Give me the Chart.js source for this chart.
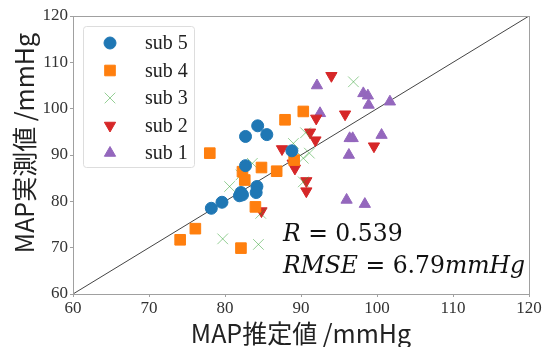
<!DOCTYPE html>
<html>
<head>
<meta charset="utf-8">
<script src="https://cdn.jsdelivr.net/npm/chart.js@4"></script>
<style>
  html, body { margin: 0; padding: 0; background: #fff; }
  #wrap { width: 545px; height: 347px; }
</style>
</head>
<body>
<div id="wrap"><canvas id="map"></canvas></div>
<script>
const sub5X = [78.2, 79.6, 81.9, 82.1, 82.3, 82.7, 82.7, 84.3, 85.5, 84.2, 84.1, 88.8];
const sub5Y = [78.5, 79.8, 81.2, 81.9, 81.4, 94.0, 87.7, 96.3, 94.4, 83.2, 81.9, 90.9];
const sub4X = [74.1, 76.1, 78.0, 82.1, 82.3, 82.6, 84.0, 84.8, 86.8, 87.9, 89.1, 90.3];
const sub4Y = [71.7, 74.1, 90.4, 69.9, 86.4, 84.6, 78.8, 87.3, 86.5, 97.6, 88.9, 99.4];
const sub3X = [79.7, 84.4, 80.6, 82.1, 83.6, 84.7, 89.0, 90.6, 90.3, 91.1, 90.3, 96.9];
const sub3Y = [71.9, 70.7, 83.2, 85.7, 88.2, 77.4, 92.5, 94.8, 89.3, 90.4, 84.2, 105.8];
const sub2X = [84.8, 87.5, 88.9, 89.2, 90.7, 90.7, 91.2, 91.9, 92.0, 94.0, 95.8, 99.6];
const sub2Y = [77.9, 91.3, 88.2, 87.1, 84.4, 82.2, 94.9, 93.2, 97.9, 107.1, 98.8, 91.9];
const sub1X = [92.1, 92.5, 96.0, 96.3, 96.4, 96.8, 98.2, 98.8, 98.9, 98.4, 100.6, 101.7];
const sub1Y = [105.0, 99.0, 80.3, 90.0, 93.6, 93.6, 103.3, 102.8, 100.8, 79.4, 94.3, 101.5];
const diagX = [60, 120];
const diagY = [60, 120];
const xTitle = 'MAP推定値 /mmHg';
const yTitle = 'MAP実測値 /mmHg';

function pts(xs, ys) {
    return xs.map((x, i) => ({ x: x, y: ys[i] }));
}

const series = [
    { label: 'sub 5', data: pts(sub5X, sub5Y), color: '#1f77b4', style: 'circle', radius: 6, rotation: 0 },
    { label: 'sub 4', data: pts(sub4X, sub4Y), color: '#ff7f0e', style: 'rect', radius: 7.5, rotation: 0 },
    { label: 'sub 3', data: pts(sub3X, sub3Y), color: 'rgba(44,160,44,0.5)', style: 'crossRot', radius: 7.5, rotation: 0 },
    { label: 'sub 2', data: pts(sub2X, sub2Y), color: '#d62728', style: 'triangle', radius: 6.5, rotation: 180 },
    { label: 'sub 1', data: pts(sub1X, sub1Y), color: '#9467bd', style: 'triangle', radius: 6.5, rotation: 0 }
];

const serif = '"Liberation Serif", "Times New Roman", serif';
const cjk = '"Noto Sans CJK JP", "Noto Sans", sans-serif';
const mathFont = '"DejaVu Serif", serif';

// frame, legend, R / RMSE note and axis titles
const extras = {
    id: 'extras',
    afterDraw(chart) {
        const ctx = chart.ctx;
        const a = chart.chartArea;
        ctx.save();
        ctx.strokeStyle = '#a0a0a0';
        ctx.lineWidth = 1;
        ctx.strokeRect(a.left + 0.5, a.top + 0.5, a.right - a.left, a.bottom - a.top);

        // legend box
        ctx.fillStyle = 'rgba(255,255,255,0.85)';
        ctx.strokeStyle = '#dddddd';
        ctx.beginPath();
        ctx.roundRect(83.5, 26.5, 111, 141, 3);
        ctx.fill();
        ctx.stroke();
        series.forEach((s, i) => {
            const y = 43 + i * 27.5;
            ctx.fillStyle = s.color;
            ctx.strokeStyle = s.color;
            ctx.lineWidth = 1;
            Chart.helpers.drawPoint(ctx, { pointStyle: s.style, radius: s.radius, rotation: s.rotation, borderWidth: 1 }, 110, y);
            ctx.fillStyle = '#222';
            ctx.font = '20px ' + serif;
            ctx.textBaseline = 'middle';
            ctx.textAlign = 'left';
            ctx.fillText(s.label, 145, y + 1);
        });

        // note
        const lines = [
            { y: 241, parts: [['R', true], [' = ', false], ['0.539', false]] },
            { y: 273, parts: [['RMSE', true], [' = ', false], ['6.79', false], ['mmHg', true]] }
        ];
        ctx.fillStyle = '#111';
        ctx.textBaseline = 'alphabetic';
        lines.forEach(line => {
            let x = 283;
            line.parts.forEach(p => {
                ctx.font = (p[1] ? 'italic ' : '') + '23.5px ' + mathFont;
                ctx.fillText(p[0], x, line.y);
                x += ctx.measureText(p[0]).width;
            });
        });

        // axis titles
        ctx.fillStyle = '#222';
        ctx.font = '25px ' + cjk;
        ctx.textAlign = 'center';
        ctx.textBaseline = 'middle';
        ctx.fillText(xTitle, (a.left + a.right) / 2, 333);
        ctx.translate(24, 143);
        ctx.rotate(-Math.PI / 2);
        ctx.fillText(yTitle, 0, 0);
        ctx.restore();
    }
};

document.addEventListener('DOMContentLoaded', () => {
    Chart.defaults.font.family = serif;
    const canvas = document.querySelector('#map');
    const datasets = [{
        type: 'line',
        label: 'y = x',
        data: pts(diagX, diagY),
        borderColor: '#444',
        borderWidth: 1,
        pointRadius: 0,
        order: 10
    }];
    series.forEach(s => {
        datasets.push({
            label: s.label,
            data: s.data,
            pointStyle: s.style,
            pointRadius: s.radius,
            pointHoverRadius: s.radius,
            rotation: s.rotation,
            backgroundColor: s.color,
            borderColor: s.color,
            borderWidth: 1
        });
    });

    new Chart(canvas.getContext('2d'), {
        type: 'scatter',
        data: { datasets: datasets },
        options: {
            responsive: true,
            maintainAspectRatio: false,
            animation: false,
            layout: { padding: { top: 16, right: 16, left: 0, bottom: 0 } },
            plugins: {
                legend: { display: false },
                tooltip: { enabled: false }
            },
            scales: {
                x: {
                    min: 60, max: 120,
                    afterFit: scale => { scale.height = 53; },
                    ticks: { stepSize: 10, color: '#333', padding: 1, maxRotation: 0, font: { family: serif, size: 17 } },
                    grid: { drawOnChartArea: false, tickLength: 3, color: '#a0a0a0' },
                    border: { color: '#a0a0a0' }
                },
                y: {
                    min: 60, max: 120,
                    afterFit: scale => { scale.width = 73; },
                    ticks: { stepSize: 10, color: '#333', padding: 2, font: { family: serif, size: 17 } },
                    grid: { drawOnChartArea: false, tickLength: 3, color: '#a0a0a0' },
                    border: { color: '#a0a0a0' }
                }
            }
        },
        plugins: [extras]
    });
});
</script>
</body>
</html>
